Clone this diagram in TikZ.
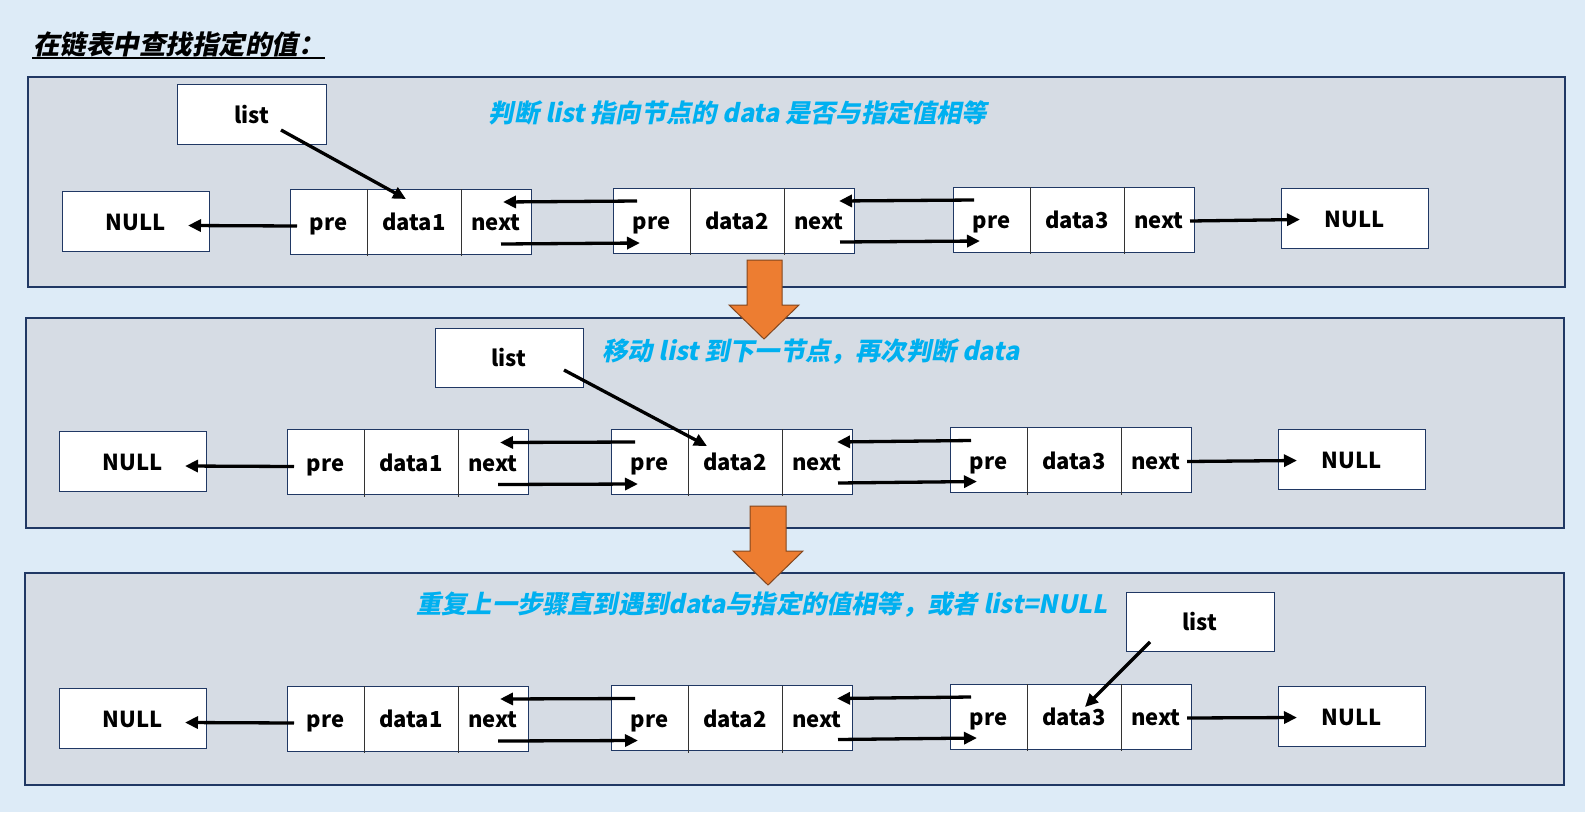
\documentclass[tikz,border=0pt]{standalone}
\usepackage{fontspec}
\setmainfont{Noto Sans CJK SC}
\newfontfamily\slantcjk{Noto Sans CJK SC}[FakeSlant=0.2]
\usetikzlibrary{arrows.meta}

\definecolor{pagebg}{RGB}{221,235,247}
\definecolor{panelbg}{RGB}{214,220,228}
\definecolor{navy}{RGB}{32,56,100}
\definecolor{hintblue}{RGB}{0,176,240}
\definecolor{orangefill}{RGB}{237,125,49}
\definecolor{orangeedge}{RGB}{130,70,30}

\newcommand\lblfont{\bfseries\fontsize{22}{26}\selectfont}
\newcommand\hintfont{\slantcjk\bfseries\fontsize{25.2}{30}\selectfont}

% one list element: pre | dataN | next
\newcommand\linknode[4]{%
  \node[cell, minimum width=77pt, anchor=west] (#1p) at (#2,#3) {pre};
  \node[cell, minimum width=94pt, anchor=west] (#1d) at (#1p.east) {data#4};
  \node[cell, minimum width=70pt, anchor=west] (#1n) at (#1d.east) {next};
  \draw[navy, line width=1pt] (#1p.north west) rectangle (#1n.south east);
  \draw[divider] (#1p.north east) -- ([yshift=-2pt]#1p.south east);
  \draw[divider] (#1d.north east) -- ([yshift=-2pt]#1d.south east);
}

% pointers of one row: NULL <- e1 <-> e2 <-> e3 -> NULL
\newcommand\wirerow[1]{%
  \draw[ptr] ([shift={(7,4.5)}]#11p.west) -- ([shift={(-21,4.5)}]#1L.east);
  \draw[ptr] ([shift={(24,13)}]#12p.north west) -- ([shift={(-28,13)}]#11n.north east);
  \draw[ptr] ([shift={(-30,-10)}]#11n.south east) -- ([shift={(27,-10)}]#12p.south west);
  \draw[ptr] ([shift={(21,13)}]#13p.north west) -- ([shift={(-15,13)}]#12n.north east);
  \draw[ptr] ([shift={(-14,-11)}]#12n.south east) -- ([shift={(27,-11)}]#13p.south west);
  \draw[ptr] ([shift={(-4,1.5)}]#13n.east) -- ([shift={(19,1.5)}]#1R.west);
}

\begin{document}
\begin{tikzpicture}[x=1pt, y=-1pt,
  panel/.style={fill=panelbg, draw=navy, line width=1.5pt},
  cell/.style={fill=white, inner sep=0pt, outer sep=0pt, minimum height=65pt,
    font=\lblfont, text height=20pt, text depth=2pt},
  boxed/.style={fill=white, draw=navy, line width=1pt, inner sep=0pt, outer sep=0pt,
    font=\lblfont, text height=20pt, text depth=2pt},
  nullbox/.style={boxed, minimum width=147pt, minimum height=60pt},
  listbox/.style={boxed, minimum width=148pt, minimum height=59pt},
  divider/.style={draw=black!80, line width=0.8pt},
  ptr/.style={line width=3.3pt, -{Triangle[length=13pt,width=12pt]}},
  hint/.style={font=\hintfont, text=hintblue, inner sep=0pt},
  bigarrow/.style={fill=orangefill, draw=orangeedge, line width=1pt, line join=miter}]

\useasboundingbox (0,0) rectangle (1585,812);
\fill[pagebg] (0,0) rectangle (1585,812);

% title
\node[anchor=base west, inner sep=0pt, font=\slantcjk\bfseries\fontsize{26.5}{31}\selectfont] (title) at (33,54) {在链表中查找指定的值：};
\draw[line width=2pt] (32,58) -- (325,58);

% panels
\draw[panel] (28,77) rectangle (1565,287);
\draw[panel] (26,318) rectangle (1564,528);
\draw[panel] (25,573) rectangle (1564,785);

% ---------- step 1 ----------
\node[hint] (hintA) at (738,113) {判断 list 指向节点的 data 是否与指定值相等};
\node[listbox, minimum width=149pt, minimum height=60pt] (aList) at (251.5,114) {list};
\node[nullbox] (aL) at (135.5,221) {NULL};
\linknode{a1}{290}{221.5}{1}
\linknode{a2}{613}{220.5}{2}
\linknode{a3}{953}{219.5}{3}
\node[nullbox] (aR) at (1354.5,218) {NULL};
\wirerow{a}
\draw[ptr] ([shift={(-45,-14)}]aList.south east) -- ([shift={(39,10)}]a1d.north west);

% ---------- step 2 ----------
\node[hint] (hintB) at (811,352) {移动 list 到下一节点，再次判断 data};
\node[listbox] (bList) at (509,357.5) {list};
\node[nullbox] (bL) at (132.5,461.5) {NULL};
\linknode{b1}{287}{462}{1}
\linknode{b2}{611}{461.5}{2}
\linknode{b3}{950}{460}{3}
\node[nullbox] (bR) at (1351.5,459) {NULL};
\wirerow{b}
\draw[ptr] ([shift={(-19,-17)}]bList.south east) -- ([shift={(19,17)}]b2d.north west);

% ---------- step 3 ----------
\node[hint] (hintC) at (762,605) {重复上一步骤直到遇到data与指定的值相等，或者 list=NULL};
\node[listbox] (cList) at (1200,621.5) {list};
\node[nullbox] (cL) at (132.5,718) {NULL};
\linknode{c1}{287}{718.5}{1}
\linknode{c2}{611}{718}{2}
\linknode{c3}{950}{716.5}{3}
\node[nullbox] (cR) at (1351.5,716) {NULL};
\wirerow{c}
\draw[ptr] ([shift={(24,-9)}]cList.south west) -- ([shift={(58,23)}]c3d.north west);

% block arrows between the steps
\draw[bigarrow] (747,260) -- (782,260) -- (782,305) -- (799,305) -- (764,339)
  -- (729,305) -- (747,305) -- cycle;
\draw[bigarrow] (750,506) -- (786,506) -- (786,551) -- (803,551) -- (768,585)
  -- (733,551) -- (750,551) -- cycle;

\end{tikzpicture}
\end{document}
